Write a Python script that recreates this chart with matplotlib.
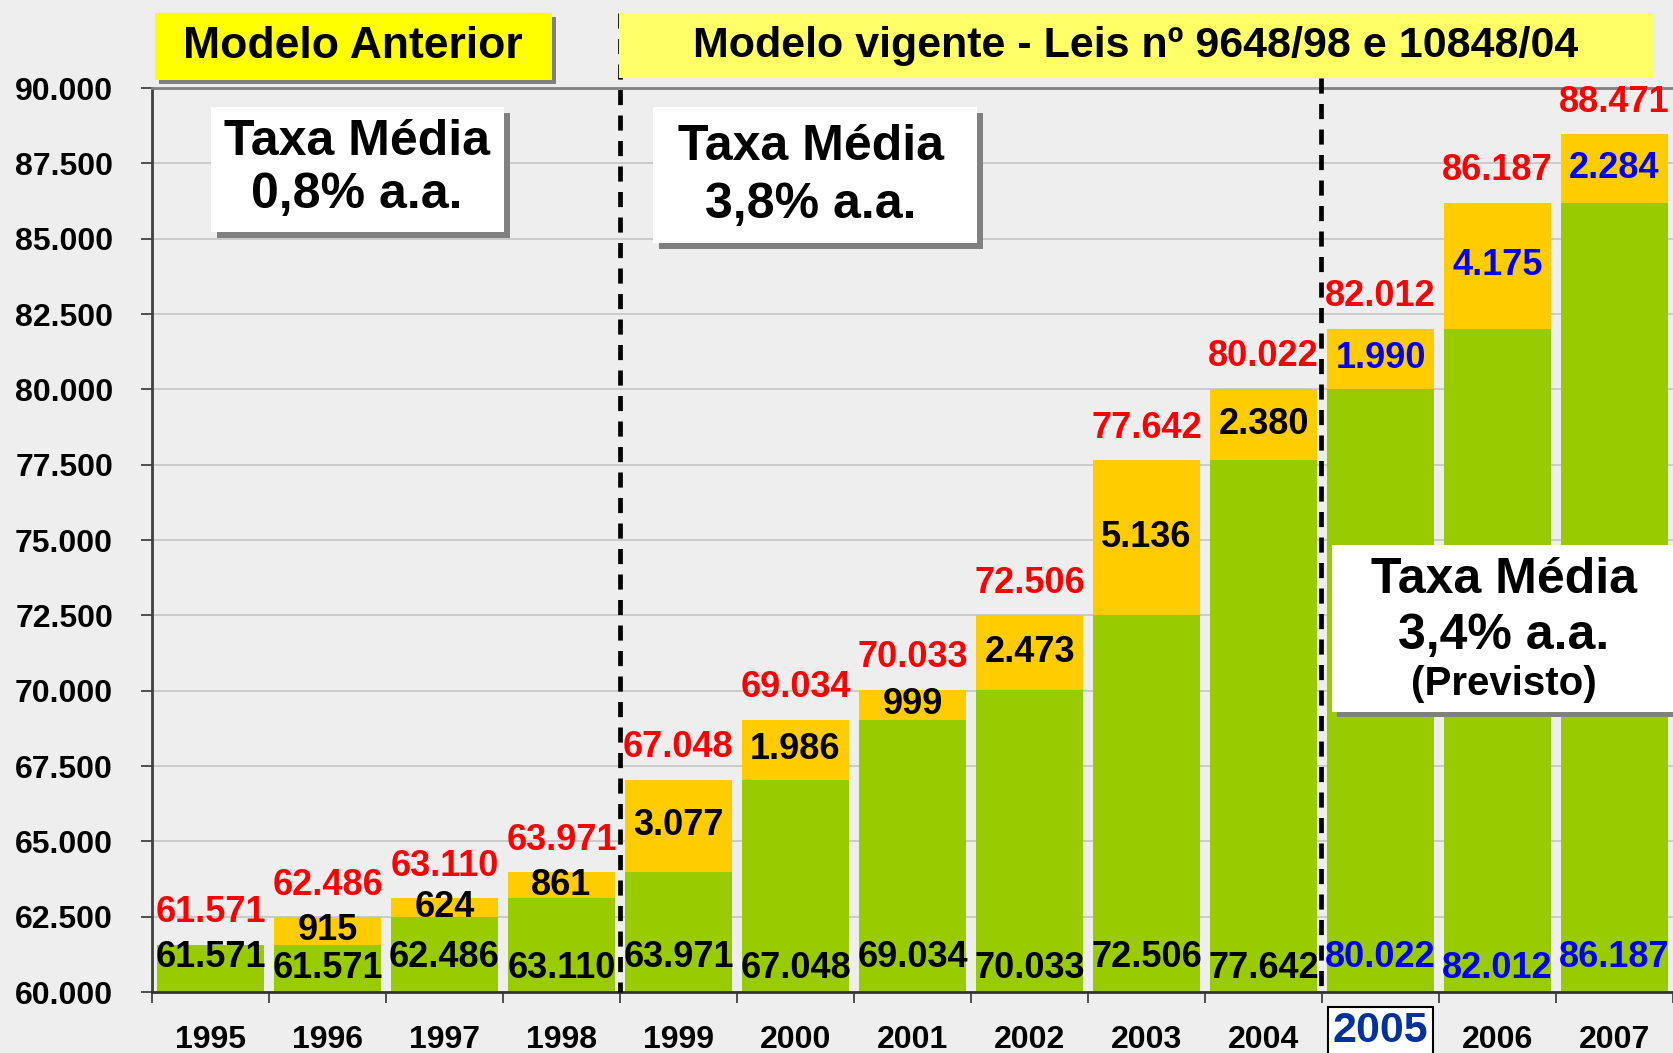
import matplotlib
matplotlib.use("Agg")
import matplotlib.pyplot as plt
from matplotlib.patches import Rectangle
from matplotlib.lines import Line2D
from matplotlib.ticker import FixedLocator
from matplotlib.transforms import ScaledTranslation

plt.rcParams['font.family'] = ['Liberation Sans', 'DejaVu Sans']
plt.rcParams['font.weight'] = 'bold'

# ---------------- data ----------------
years = ["1995", "1996", "1997", "1998", "1999", "2000", "2001",
         "2002", "2003", "2004", "2005", "2006", "2007"]
base_values = [61571, 61571, 62486, 63110, 63971, 67048, 69034,
               70033, 72506, 77642, 80022, 82012, 86187]
increments = [0, 915, 624, 861, 3077, 1986, 999,
              2473, 5136, 2380, 1990, 4175, 2284]
totals = [61571, 62486, 63110, 63971, 67048, 69034, 70033,
          72506, 77642, 80022, 82012, 86187, 88471]
ytick_values = [60000, 62500, 65000, 67500, 70000, 72500, 75000,
                77500, 80000, 82500, 85000, 87500, 90000]
ytick_labels = ["60.000", "62.500", "65.000", "67.500", "70.000", "72.500",
                "75.000", "77.500", "80.000", "82.500", "85.000", "87.500",
                "90.000"]
forecast_start = 10  # 2005 onward labelled in blue
banner_left = "Modelo Anterior"
banner_right = "Modelo vigente - Leis nº 9648/98 e 10848/04"
rate_boxes = [["Taxa Média", "0,8% a.a."],
              ["Taxa Média", "3,8% a.a."],
              ["Taxa Média", "3,4% a.a.", "(Previsto)"]]


def fmt(v):
    return f"{v:,}".replace(",", ".")


# ---------------- figure ----------------
W, H = 1673, 1053
fig = plt.figure(figsize=(W / 100, H / 100), dpi=100, facecolor="#EEEEEE")


def fx(x):
    return x / W


def fy(y):
    return 1 - y / H


ax_l, ax_r, ax_t, ax_b = 152, 1673, 88, 992
ax = fig.add_axes([fx(ax_l), fy(ax_b), fx(ax_r - ax_l), (ax_b - ax_t) / H])
ax.set_facecolor("none")

GREEN = "#99CC00"
ORANGE = "#FFCC00"
n = len(years)
xs = list(range(n))
bw = 0.91
ax.bar(xs, [b - 60000 for b in base_values], bottom=60000, width=bw,
       color=GREEN, zorder=2)
ax.bar(xs, increments, bottom=base_values, width=bw, color=ORANGE, zorder=2)

ax.set_xlim(-0.5, n - 0.5)
ax.set_ylim(60000, 90000)

# grid
ax.yaxis.set_major_locator(FixedLocator(ytick_values))
ax.set_yticklabels(ytick_labels)
ax.grid(axis="y", color="#C4C4C4", lw=1.2, zorder=0)
ax.set_axisbelow(True)
ax.tick_params(axis="y", labelsize=23, length=8, width=1.2, pad=20,
               color="#333333")

ax.set_xticks(xs)
ax.set_xticklabels(years)
ax.tick_params(axis="x", which="major", length=0, labelsize=23, pad=24)
ax.set_xticks([i + 0.5 for i in range(-1, n)], minor=True)
ax.tick_params(axis="x", which="minor", length=8, width=1.2, color="#333333")

ax.spines["right"].set_visible(False)
ax.spines["top"].set_color("#808080")
ax.spines["top"].set_linewidth(2)
ax.spines["left"].set_color("#404040")
ax.spines["left"].set_linewidth(2)
ax.spines["bottom"].set_color("#333333")
ax.spines["bottom"].set_linewidth(2)

# data labels
for i in range(n):
    col_in = "blue" if i >= forecast_start else "black"
    off = 24.5 if i % 2 == 0 else 17
    ax.annotate(fmt(base_values[i]), (i, 60000), xytext=(0, off),
                textcoords="offset points", ha="center", va="center",
                fontsize=26, color=col_in, zorder=5)
    if increments[i] > 0:
        ax.text(i, base_values[i] + increments[i] / 2, fmt(increments[i]),
                ha="center", va="center", fontsize=26, color=col_in, zorder=5)
    ax.annotate(fmt(totals[i]), (i, totals[i]), xytext=(0, 23),
                textcoords="offset points", ha="center", va="center",
                fontsize=26, color="red", zorder=5)

# dashed separators
dash_kw = dict(color="black", lw=3.4, linestyle=(0, (3.2, 2.2)), zorder=20)
fig.add_artist(Line2D([fx(620), fx(620)], [fy(13), fy(ax_b)], **dash_kw))
fig.add_artist(Line2D([fx(1321), fx(1321)], [fy(78), fy(ax_b)], **dash_kw))


def box(x0, y0, x1, y1, face, shadow=6, z=10):
    if shadow:
        fig.add_artist(Rectangle((fx(x0 + shadow), fy(y1 + shadow)),
                                 fx(x1 - x0), (y1 - y0) / H,
                                 facecolor="#808080", edgecolor="none",
                                 zorder=z))
    fig.add_artist(Rectangle((fx(x0), fy(y1)), fx(x1 - x0), (y1 - y0) / H,
                             facecolor=face, edgecolor="none", zorder=z + 0.1))


# banners
box(155, 13, 552, 80, "#FFFF00", shadow=4, z=30)
fig.text(fx(353), fy(47), banner_left, ha="center", va="center",
         fontsize=32, zorder=31)
box(619, 13, 1653, 78, "#FFFF66", shadow=0, z=30)
fig.text(fx(1136), fy(46), banner_right, ha="center", va="center",
         fontsize=31, zorder=31)

# rate boxes
box(211, 107, 504, 232, "white", shadow=6, z=30)
fig.text(fx(357), fy(142), rate_boxes[0][0], ha="center", va="center",
         fontsize=36, zorder=31)
fig.text(fx(357), fy(195), rate_boxes[0][1], ha="center", va="center",
         fontsize=36, zorder=31)

box(653, 107, 977, 243, "white", shadow=6, z=30)
fig.text(fx(811), fy(147), rate_boxes[1][0], ha="center", va="center",
         fontsize=36, zorder=31)
fig.text(fx(811), fy(205), rate_boxes[1][1], ha="center", va="center",
         fontsize=36, zorder=31)

box(1332, 545, 1680, 712, "white", shadow=5, z=30)
fig.text(fx(1504), fy(580), rate_boxes[2][0], ha="center", va="center",
         fontsize=36, zorder=31)
fig.text(fx(1504), fy(636), rate_boxes[2][1], ha="center", va="center",
         fontsize=36, zorder=31)
fig.text(fx(1504), fy(684), rate_boxes[2][2], ha="center", va="center",
         fontsize=29, zorder=31)

# 2005 label highlighted (shifted up a little so it fits like the original)
lab = ax.get_xticklabels()[forecast_start]
lab.set_color("#003399")
lab.set_fontsize(31)
lab.set_bbox(dict(boxstyle="square,pad=0.1", facecolor="white",
                  edgecolor="black", lw=1.5))
lab.set_transform(lab.get_transform() +
                  ScaledTranslation(0, 10 / 72, fig.dpi_scale_trans))

fig.savefig("out.png", dpi=100, facecolor=fig.get_facecolor())
